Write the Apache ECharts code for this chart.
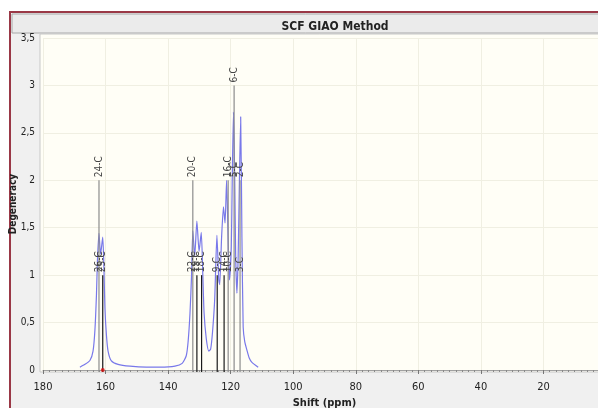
<!DOCTYPE html>
<html>
<head>
<meta charset="utf-8">
<script src="https://cdn.jsdelivr.net/npm/echarts@6/dist/echarts.min.js"></script>
<style>
  html, body { margin: 0; padding: 0; background: #fff; }
  #chart { width: 598px; height: 408px; }
</style>
</head>
<body>
<div id="chart"></div>
<script>
// simulated spectrum: [shift ppm, intensity]
const spectrum = [
  [168.2, 0.03], [166.6, 0.06], [165.0, 0.10], [164.0, 0.20], [163.4, 0.42],
  [162.9, 0.80], [162.6, 1.15], [162.1, 1.44], [161.6, 1.22], [160.9, 1.40],
  [160.5, 1.05], [160.2, 0.65], [159.7, 0.36], [159.2, 0.20], [158.2, 0.10],
  [156.0, 0.06], [152.2, 0.04], [147.0, 0.03], [142.6, 0.03], [137.8, 0.04],
  [135.5, 0.07], [134.2, 0.15], [133.6, 0.30], [133.0, 0.60], [132.5, 1.00],
  [132.1, 1.47], [131.5, 1.20], [130.8, 1.57], [130.1, 1.25], [129.4, 1.45],
  [128.9, 1.00], [128.5, 0.60], [127.8, 0.33], [127.0, 0.20], [126.4, 0.22],
  [125.8, 0.40], [125.1, 0.75], [124.4, 1.42], [123.8, 0.95], [123.5, 0.90],
  [122.9, 1.40], [122.3, 1.72], [121.8, 1.55], [121.3, 2.00], [120.7, 1.20],
  [120.4, 0.95], [119.8, 1.30], [119.5, 2.00], [119.1, 2.72], [118.7, 2.00],
  [118.4, 1.20], [118.0, 0.81], [117.6, 1.20], [117.2, 2.00], [116.8, 2.67],
  [116.4, 1.40], [116.0, 0.45], [115.5, 0.30], [114.8, 0.21], [114.1, 0.13],
  [113.2, 0.08], [111.2, 0.03]
];

// calculated lines (shift, degeneracy)
const stickShift = [162.1, 160.9, 132.1, 130.8, 129.3, 124.3, 122.1, 120.8, 118.9, 117.0];
const stickHeight = [2, 1, 2, 1, 1, 1, 1, 2, 3, 2];

// atom labels drawn above the lines
const labelShift = [162.1, 162.1, 160.9, 132.1, 132.1, 130.8, 129.3, 124.3, 122.1, 120.8, 120.8, 118.9, 118.9, 117.0, 117.0];
const labelHeight = [2, 1, 1, 2, 1, 1, 1, 1, 1, 2, 1, 3, 2, 2, 1];
const labelText = ['24-C', '26-C', '25-C', '20-C', '22-C', '19-C', '18-C', '9-C', '14-C', '16-C', '10-C', '6-C', '5-C', '2-C', '3-C'];

const markerShift = [160.9];

const xTicks = { min: 0, max: 180, interval: 20 };
const yTicks = { min: 0, max: 3.5, interval: 0.5 };

const FONT = '"Liberation Sans Narrow", "DejaVu Sans Condensed", sans-serif';

const chart = echarts.init(document.getElementById('chart'), null, { renderer: 'canvas' });

const sticks = stickShift.map((s, i) => [s, stickHeight[i]]);
const labels = labelShift.map((s, i) => [s, labelHeight[i], labelText[i]]);

chart.setOption({
  backgroundColor: '#ffffff',
  animation: false,
  graphic: [
    // window area
    { type: 'rect', z: -10, shape: { x: 10, y: 12, width: 600, height: 400 },
      style: { fill: '#f0f0f0', stroke: '#9a3846', lineWidth: 2 } },
    { type: 'rect', z: -9, shape: { x: 12, y: 14, width: 600, height: 19 },
      style: { fill: '#ebebeb', stroke: '#a8a8a8', lineWidth: 1 } },
    // plot background
    { type: 'rect', z: -8, shape: { x: 40, y: 34, width: 570, height: 338 },
      style: { fill: '#fffef6', stroke: '#c8c8c8', lineWidth: 1 } }
  ],
  title: {
    text: 'SCF GIAO Method',
    left: 330, top: 16, textAlign: 'center',
    textStyle: { fontFamily: FONT, fontSize: 12, fontWeight: 'bold', color: '#222' }
  },
  grid: { left: 43, right: -8, top: 38, bottom: 38, outerBoundsMode: 'none', containLabel: false },
  xAxis: {
    type: 'value', inverse: true,
    min: xTicks.min, max: xTicks.max, interval: xTicks.interval,
    offset: 6,
    name: 'Shift (ppm)', nameLocation: 'middle', nameGap: 21,
    nameTextStyle: { fontFamily: FONT, fontSize: 11, fontWeight: 'bold', color: '#222' },
    axisLine: { show: true, lineStyle: { color: '#a0a0a0', width: 1 } },
    axisTick: { show: true, length: 4, lineStyle: { color: '#777' } },
    minorTick: { show: true, splitNumber: 10, length: 2, lineStyle: { color: '#888' } },
    axisLabel: { fontFamily: FONT, fontSize: 11, color: '#222', margin: 6 },
    splitLine: { show: true, lineStyle: { color: '#f0efe2', width: 1 } }
  },
  yAxis: {
    type: 'value',
    min: yTicks.min, max: yTicks.max, interval: yTicks.interval,
    offset: 3,
    name: 'Degeneracy', nameLocation: 'middle', nameGap: 22, nameRotate: 90,
    nameMoveOverlap: false,
    nameTextStyle: { fontFamily: FONT, fontSize: 10, fontWeight: 'bold', color: '#222' },
    axisLine: { show: true, lineStyle: { color: '#b8b8b8', width: 3 } },
    axisTick: { show: true, length: 4, lineStyle: { color: '#777' } },
    axisLabel: {
      fontFamily: FONT, fontSize: 10, color: '#222', margin: 5,
      formatter: (v) => String(v).replace('.', ',')
    },
    splitLine: { show: true, lineStyle: { color: '#f0efe2', width: 1 } }
  },
  series: [
    {
      type: 'line', data: spectrum, symbol: 'none', smooth: 0.2,
      lineStyle: { color: '#7878ea', width: 1.2 }, z: 2
    },
    {
      type: 'custom', data: sticks, z: 3,
      renderItem: (params, api) => {
        const h = api.value(1);
        const p0 = api.coord([api.value(0), 0]);
        const p1 = api.coord([api.value(0), h]);
        return {
          type: 'line',
          shape: { x1: p0[0], y1: p0[1] + 2, x2: p1[0], y2: p1[1] },
          style: { stroke: h > 1 ? '#8c8c8c' : '#1a1a1a', lineWidth: 1.2 }
        };
      }
    },
    {
      type: 'custom', data: labels, z: 4,
      renderItem: (params, api) => {
        const p = api.coord([api.value(0), api.value(1)]);
        return {
          type: 'text', x: p[0], y: p[1] - 3, rotation: Math.PI / 2,
          style: {
            text: labelText[params.dataIndex],
            fontFamily: FONT, fontSize: 10, fill: '#444',
            align: 'left', verticalAlign: 'middle'
          }
        };
      }
    },
    {
      type: 'scatter', data: markerShift.map((s) => [s, 0]), z: 5,
      symbol: 'circle', symbolSize: 4, itemStyle: { color: '#e01010' }
    }
  ]
});
</script>
</body>
</html>
